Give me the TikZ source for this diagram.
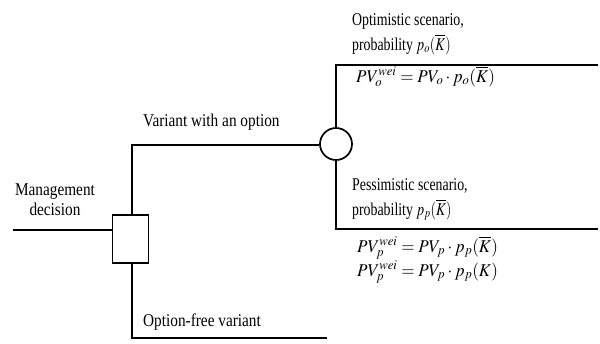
\documentclass[tikz,border=0pt]{standalone}
\usepackage{mathptmx}
\usepackage{fontspec}
\setmainfont{Liberation Serif}
\usetikzlibrary{positioning}

\tikzset{
	branch/.style={line width=1.7pt},
	decbox/.style={draw, line width=1.7pt, fill=white, minimum width=36pt, minimum height=48pt, inner sep=0pt},
	chance/.style={draw, circle, line width=1.7pt, fill=white, minimum size=32pt, inner sep=0pt},
	lbl/.style={anchor=base west, inner sep=0pt, font=\fontsize{18}{20}\selectfont, transform shape},
	leftlbl/.style={lbl, xscale=0.85},
	rightlbl/.style={lbl, xscale=0.77},
	formula/.style={lbl, xscale=0.95},
}

\begin{document}
\begin{tikzpicture}[x=1pt, y=-1pt]
	\useasboundingbox (0,0) rectangle (600,343);
	% tree skeleton
	\coordinate (start) at (13,230);
	\coordinate (upleft) at (132,145);
	\coordinate (lowleft) at (132,338);
	\coordinate (lowend) at (327,338);
	\coordinate (optleft) at (336,65);
	\coordinate (optend) at (598,65);
	\coordinate (pesleft) at (336,229);
	\coordinate (pesend) at (598,229);
	\node[decbox] (dec) at (130.5,239) {};
	\node[chance] (chn) at (336,144) {};
	\draw[branch] (start) -- (start -| dec.west);
	\draw[branch] (upleft |- dec.north) -- (upleft) -- (upleft -| chn.west);
	\draw[branch] (lowleft |- dec.south) -- (lowleft) -- (lowend);
	\draw[branch] (chn.north) -- (optleft) -- (optend);
	\draw[branch] (chn.south) -- (pesleft) -- (pesend);
	% labels
	\node[leftlbl, anchor=base] (md1) at (55,195) {Management};
	\node[leftlbl, anchor=base] (md2) at (55,215) {decision};
	\node[leftlbl] (withopt) at (143,126) {Variant with an option};
	\node[leftlbl] (nofree) at (143,326) {Option-free variant};
	\node[rightlbl] (opt1) at (352,25) {Optimistic scenario,};
	\node[rightlbl] (opt2) at (352,50) {probability $p_o(\overline{K})$};
	\node[formula] (optf) at (356,82) {$PV_o^{wei} = PV_o\cdot p_o(\overline{K})$};
	\node[rightlbl] (pes1) at (352,190) {Pessimistic scenario,};
	\node[rightlbl] (pes2) at (352,215) {probability $p_p(\overline{K})$};
	\node[formula] (pesf1) at (357,252) {$PV_p^{wei} = PV_p\cdot p_p(\overline{K})$};
	\node[formula] (pesf2) at (357,276) {$PV_p^{wei} = PV_p\cdot p_p(K)$};
\end{tikzpicture}
\end{document}
